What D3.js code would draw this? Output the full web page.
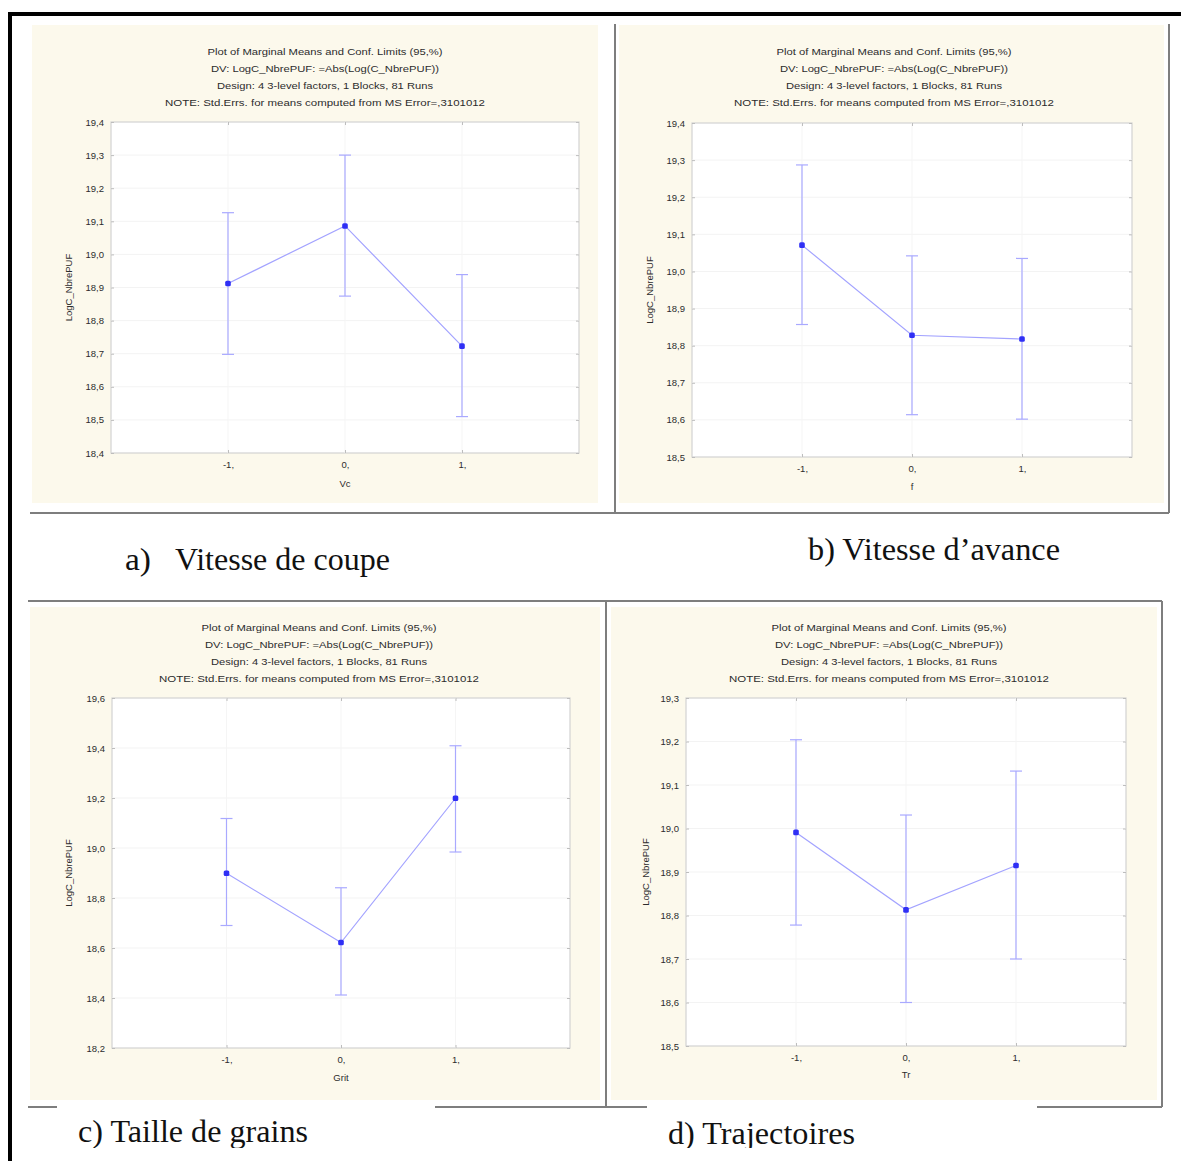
<!DOCTYPE html>
<html>
<head>
<meta charset="utf-8">
<script src="https://cdn.jsdelivr.net/npm/d3@7"></script>
<style>
  html, body { margin: 0; padding: 0; background: #ffffff; }
  svg { display: block; }
</style>
</head>
<body>
<svg id="chart" width="1181" height="1161"></svg>
<script>
// ---------------- DATA ----------------
const levels = [-1, 0, 1];
const levelLabels = ["-1,", "0,", "1,"];
const titleLines = [
  "Plot of Marginal Means and Conf. Limits (95,%)",
  "DV: LogC_NbrePUF: =Abs(Log(C_NbrePUF))",
  "Design: 4 3-level factors, 1 Blocks, 81 Runs",
  "NOTE: Std.Errs. for means computed from MS Error=,3101012"
];
const yAxisTitle = "LogC_NbrePUF";
const xAxisTitles = ["Vc", "f", "Grit", "Tr"];

// a) Vitesse de coupe
const meanA = [18.912, 19.086, 18.723];
const lowA  = [18.698, 18.874, 18.510];
const highA = [19.126, 19.300, 18.939];
const ticksA = [18.4, 18.5, 18.6, 18.7, 18.8, 18.9, 19.0, 19.1, 19.2, 19.3, 19.4];

// b) Vitesse d'avance
const meanB = [19.071, 18.828, 18.818];
const lowB  = [18.857, 18.614, 18.602];
const highB = [19.287, 19.042, 19.035];
const ticksB = [18.5, 18.6, 18.7, 18.8, 18.9, 19.0, 19.1, 19.2, 19.3, 19.4];

// c) Taille de grains
const meanC = [18.899, 18.622, 19.199];
const lowC  = [18.690, 18.412, 18.984];
const highC = [19.118, 18.841, 19.409];
const ticksC = [18.2, 18.4, 18.6, 18.8, 19.0, 19.2, 19.4, 19.6];

// d) Trajectoires
const meanD = [18.991, 18.813, 18.915];
const lowD  = [18.778, 18.600, 18.700];
const highD = [19.204, 19.031, 19.132];
const ticksD = [18.5, 18.6, 18.7, 18.8, 18.9, 19.0, 19.1, 19.2, 19.3];

const captionLabels = ["a)", "Vitesse de coupe", "b) Vitesse d\u2019avance", "c) Taille de grains", "d) Trajectoires"];

// ---------------- LAYOUT ----------------
const svg = d3.select("#chart");
const fmt = v => d3.format(".1f")(v).replace(".", ",");
const sansFont = "'Liberation Sans', Arial, sans-serif";
const serifFont = "'Liberation Serif', 'Times New Roman', serif";
const smallText = "#2c2c2c";

const panels = [
  { mean: meanA, low: lowA, high: highA, ticks: ticksA, xTitle: xAxisTitles[0],
    L: 111, R: 579, T: 122, B: 453, tx: 325, ty: [51, 68, 85, 102], yTitleX: 69,
    xTickY: 468, xTitleY: 487,
    bg: [32, 25, 598, 503] },
  { mean: meanB, low: lowB, high: highB, ticks: ticksB, xTitle: xAxisTitles[1],
    L: 692, R: 1132, T: 123, B: 457, tx: 894, ty: [51, 68, 85, 102], yTitleX: 650,
    xTickY: 472, xTitleY: 490,
    bg: [619, 25, 1164, 503] },
  { mean: meanC, low: lowC, high: highC, ticks: ticksC, xTitle: xAxisTitles[2],
    L: 112, R: 570, T: 698, B: 1048, tx: 319, ty: [627, 644, 661, 678], yTitleX: 69,
    xTickY: 1063, xTitleY: 1081,
    bg: [30, 607, 600, 1100] },
  { mean: meanD, low: lowD, high: highD, ticks: ticksD, xTitle: xAxisTitles[3],
    L: 686, R: 1126, T: 698, B: 1046, tx: 889, ty: [627, 644, 661, 678], yTitleX: 646,
    xTickY: 1061, xTitleY: 1078,
    bg: [611, 607, 1157, 1100] }
];
const titleWidths = [235, 228, 216, 320];

// cream backgrounds
panels.forEach(p => {
  svg.append("rect")
    .attr("x", p.bg[0]).attr("y", p.bg[1])
    .attr("width", p.bg[2] - p.bg[0]).attr("height", p.bg[3] - p.bg[1])
    .attr("fill", "#fcf9ec");
});

function drawPanel(p) {
  const g = svg.append("g");
  const x = d3.scaleLinear().domain([-2, 2]).range([p.L, p.R]);
  const y = d3.scaleLinear().domain([p.ticks[0], p.ticks[p.ticks.length - 1]]).range([p.B, p.T]);

  g.append("rect")
    .attr("x", p.L).attr("y", p.T).attr("width", p.R - p.L).attr("height", p.B - p.T)
    .attr("fill", "#ffffff").attr("stroke", "#d2d2d2").attr("stroke-width", 1.2);

  // faint gridlines
  g.selectAll(".hg").data(p.ticks.slice(1, -1)).join("line")
    .attr("x1", p.L).attr("x2", p.R)
    .attr("y1", d => y(d)).attr("y2", d => y(d))
    .attr("stroke", "#f3f3f3").attr("stroke-width", 1);
  g.selectAll(".vg").data(levels).join("line")
    .attr("x1", d => x(d)).attr("x2", d => x(d))
    .attr("y1", p.T).attr("y2", p.B)
    .attr("stroke", "#f5f5f5").attr("stroke-width", 1);

  // axes
  const yAxis = d3.axisLeft(y).tickValues(p.ticks).tickFormat(fmt).tickSize(-3).tickPadding(7);
  const ya = g.append("g").attr("transform", `translate(${p.L},0)`).call(yAxis);
  const yAxisR = d3.axisRight(y).tickValues(p.ticks).tickFormat("").tickSize(-3);
  const yr = g.append("g").attr("transform", `translate(${p.R},0)`).call(yAxisR);
  const xAxis = d3.axisBottom(x).tickValues(levels).tickFormat((d, i) => levelLabels[i]).tickSize(-3).tickPadding(p.xTickY - p.B - 7);
  const xa = g.append("g").attr("transform", `translate(0,${p.B})`).call(xAxis);
  const xAxisT = d3.axisTop(x).tickValues(levels).tickFormat("").tickSize(-3);
  const xt = g.append("g").attr("transform", `translate(0,${p.T})`).call(xAxisT);
  [ya, yr, xa, xt].forEach(a => {
    a.select(".domain").remove();
    a.selectAll(".tick line").attr("stroke", "#bdbdbd");
    a.selectAll("text").attr("fill", smallText).style("font-family", sansFont).style("font-size", "9.5px");
  });

  // axis titles
  g.append("text")
    .attr("transform", `translate(${p.yTitleX},${(p.T + p.B) / 2}) rotate(-90)`)
    .attr("text-anchor", "middle").attr("dy", "0.35em")
    .style("font-family", sansFont).style("font-size", "9.5px").attr("fill", smallText)
    .text(yAxisTitle);
  g.append("text")
    .attr("x", x(0)).attr("y", p.xTitleY)
    .attr("text-anchor", "middle")
    .style("font-family", sansFont).style("font-size", "9.5px").attr("fill", smallText)
    .text(p.xTitle);

  // title block
  titleLines.forEach((t, i) => {
    g.append("text")
      .attr("x", p.tx - titleWidths[i] / 2).attr("y", p.ty[i] + 3.5)
      .attr("textLength", titleWidths[i]).attr("lengthAdjust", "spacingAndGlyphs")
      .style("font-family", sansFont).style("font-size", "9.5px").attr("fill", smallText)
      .text(t);
  });

  // error bars
  const eb = g.append("g").attr("stroke", "#a9a9ff").attr("stroke-width", 1.2);
  levels.forEach((lv, i) => {
    const cx = x(lv);
    eb.append("line").attr("x1", cx).attr("x2", cx).attr("y1", y(p.low[i])).attr("y2", y(p.high[i]));
    eb.append("line").attr("x1", cx - 6).attr("x2", cx + 6).attr("y1", y(p.low[i])).attr("y2", y(p.low[i]));
    eb.append("line").attr("x1", cx - 6).attr("x2", cx + 6).attr("y1", y(p.high[i])).attr("y2", y(p.high[i]));
  });

  // mean line
  const line = d3.line().x((d, i) => x(levels[i])).y(d => y(d));
  g.append("path").datum(p.mean).attr("d", line)
    .attr("fill", "none").attr("stroke", "#a3a3ff").attr("stroke-width", 1.2);

  // points
  g.selectAll(".pt").data(p.mean).join("rect")
    .attr("x", (d, i) => x(levels[i]) - 2.8).attr("y", d => y(d) - 2.8)
    .attr("width", 5.6).attr("height", 5.6).attr("rx", 1.5)
    .attr("fill", "#2f2ff5");
}
panels.forEach(drawPanel);

// ---------------- FRAMES ----------------
const frame = svg.append("g").attr("stroke", "#7e7e7e").attr("stroke-width", 2).attr("fill", "none");
const seg = (x1, y1, x2, y2) => frame.append("line").attr("x1", x1).attr("y1", y1).attr("x2", x2).attr("y2", y2);
// top row
seg(30, 513, 1169, 513);
seg(615, 24, 615, 513);
seg(1169, 24, 1169, 513);
// bottom row
seg(28, 601, 1162, 601);
seg(606, 601, 606, 1107);
seg(1162, 601, 1162, 1107);
seg(28, 1107, 57, 1107);
seg(435, 1107, 647, 1107);
seg(1037, 1107, 1162, 1107);

// outer black frame
svg.append("line").attr("x1", 8).attr("x2", 1181).attr("y1", 14).attr("y2", 14)
  .attr("stroke", "#000").attr("stroke-width", 4);
svg.append("line").attr("x1", 10).attr("x2", 10).attr("y1", 12).attr("y2", 1161)
  .attr("stroke", "#000").attr("stroke-width", 4);

// ---------------- CAPTIONS ----------------
svg.append("clipPath").attr("id", "capclip")
  .append("rect").attr("x", 0).attr("y", 0).attr("width", 1181).attr("height", 1148);
const caps = svg.append("g").attr("clip-path", "url(#capclip)")
  .style("font-family", serifFont).style("font-size", "31px").attr("fill", "#111");
const capSpecs = [
  { t: captionLabels[0], x: 125, y: 570, w: 26 },
  { t: captionLabels[1], x: 175, y: 570, w: 215 },
  { t: captionLabels[2], x: 808, y: 560, w: 252 },
  { t: captionLabels[3], x: 78, y: 1142, w: 230 },
  { t: captionLabels[4], x: 668, y: 1144, w: 187 }
];
capSpecs.forEach(c => {
  caps.append("text").attr("x", c.x).attr("y", c.y)
    .attr("textLength", c.w).attr("lengthAdjust", "spacingAndGlyphs")
    .text(c.t);
});
</script>
</body>
</html>
